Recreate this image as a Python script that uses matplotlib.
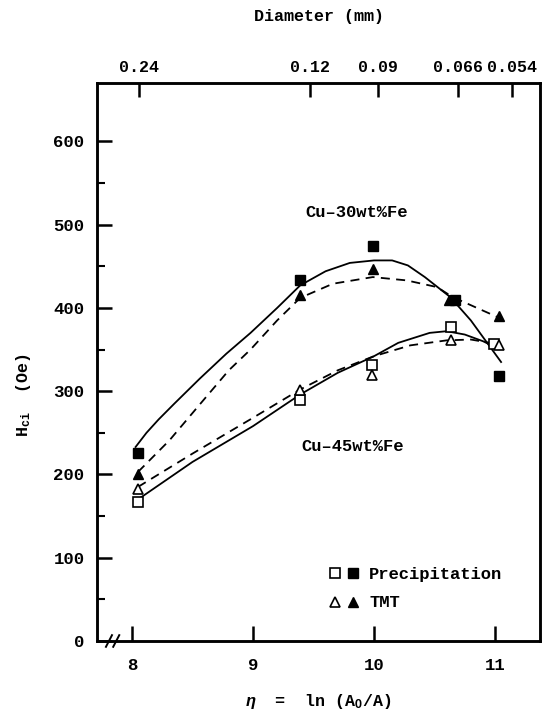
import matplotlib
matplotlib.use("Agg")
import matplotlib.pyplot as plt
from matplotlib.ticker import FixedLocator

plt.rcParams['font.family'] = ['Liberation Mono', 'DejaVu Sans']
plt.rcParams['font.weight'] = 'bold'
plt.rcParams['axes.labelweight'] = 'bold'
plt.rcParams['mathtext.fontset'] = 'custom'
plt.rcParams['mathtext.rm'] = 'Liberation Mono:bold'
plt.rcParams['mathtext.it'] = 'Liberation Mono:italic:bold'
plt.rcParams['mathtext.bf'] = 'Liberation Mono:bold'

# measured points: eta, Hci (Oe)
eta30_prec = [8.05, 9.39, 9.99, 10.67, 11.03]
hc30_prec = [226, 434, 474, 410, 318]
eta30_tmt = [8.05, 9.39, 9.99, 10.62, 11.03]
hc30_tmt = [200, 415, 447, 410, 390]
eta45_prec = [8.05, 9.39, 9.98, 10.64, 10.99]
hc45_prec = [167, 289, 331, 377, 357]
eta45_tmt = [8.05, 9.39, 9.98, 10.64, 11.03]
hc45_tmt = [182, 301, 320, 361, 356]

# hand-drawn fit curves
fit30_prec_x = [8.03, 8.12, 8.22, 8.35, 8.56, 8.78, 8.98, 9.2, 9.39, 9.6, 9.8, 10.0, 10.15, 10.28, 10.42, 10.63, 10.8, 10.95, 11.05]
fit30_prec_y = [233, 250, 266, 285, 315, 345, 370, 400, 427, 444, 454, 457, 457, 451, 437, 413, 385, 355, 335]
fit30_tmt_x = [8.05, 8.31, 8.56, 8.8, 8.98, 9.2, 9.39, 9.66, 9.99, 10.27, 10.52, 10.65, 10.85, 11.02]
fit30_tmt_y = [203, 241, 284, 325, 350, 385, 412, 429, 437, 433, 425, 413, 400, 389]
fit45_prec_x = [8.05, 8.5, 9.0, 9.39, 9.7, 10.0, 10.2, 10.46, 10.6, 10.75, 10.9, 11.0]
fit45_prec_y = [170, 215, 258, 296, 322, 342, 358, 370, 372, 368, 360, 353]
fit45_tmt_x = [8.05, 8.5, 9.0, 9.39, 9.7, 10.0, 10.3, 10.6, 10.8, 11.0, 11.05]
fit45_tmt_y = [185, 225, 268, 302, 325, 342, 355, 361, 362, 357, 355]

# top axis: wire diameter
diam_labels = ['0.24', '0.12', '0.09', '0.066', '0.054']
diam_eta = [8.06, 9.47, 10.03, 10.69, 11.14]

fig = plt.figure(figsize=(5.47, 7.19), dpi=100)
ax = fig.add_axes([0.1773, 0.1085, 0.81, 0.776])

lw = 1.3
dash = (0, (5, 3.5))
ax.plot(fit30_prec_x, fit30_prec_y, color='black', lw=lw)
ax.plot(fit30_tmt_x, fit30_tmt_y, color='black', lw=lw, linestyle=dash)
ax.plot(fit45_prec_x, fit45_prec_y, color='black', lw=lw)
ax.plot(fit45_tmt_x, fit45_tmt_y, color='black', lw=lw, linestyle=dash)

ms = 6.5
ax.plot(eta30_prec, hc30_prec, 's', color='black', ms=ms, ls='none')
ax.plot(eta30_tmt, hc30_tmt, '^', color='black', ms=ms, ls='none')
ax.plot(eta45_prec, hc45_prec, 's', mfc='white', mec='black', mew=1.2, ms=ms, ls='none')
ax.plot(eta45_tmt, hc45_tmt, '^', mfc='white', mec='black', mew=1.2, ms=ms, ls='none')

ax.set_xlim(7.711, 11.372)
ax.set_ylim(0, 670)

for s in ax.spines.values():
    s.set_linewidth(1.8)

ax.set_xticks([8, 9, 10, 11])
ax.set_yticks([0, 100, 200, 300, 400, 500, 600])
ax.yaxis.set_minor_locator(FixedLocator([50, 150, 250, 350, 450, 550]))
ax.tick_params(axis='both', which='major', direction='in', length=11, width=1.8,
               labelsize=12.5, pad=9)
ax.tick_params(axis='y', which='minor', direction='in', length=6, width=1.5)
ax.tick_params(axis='x', pad=12)
for lab in ax.get_xticklabels() + ax.get_yticklabels():
    lab.set_fontweight('bold')

ax.set_xlabel(r'$\eta$  =  ln (A$_\mathrm{O}$/A)', fontsize=12, labelpad=14)
ax.set_ylabel(r'H$_\mathrm{ci}$  (Oe)', fontsize=12, labelpad=10)
ax.yaxis.set_label_coords(-0.145, 0.44)

top = ax.twiny()
top.set_xlim(ax.get_xlim())
top.set_xticks(diam_eta)
top.set_xticklabels(diam_labels, fontweight='bold')
top.tick_params(axis='x', direction='in', length=10, width=1.8, labelsize=12, pad=6)
top.set_xlabel('Diameter (mm)', fontsize=12, labelpad=28)
for s in top.spines.values():
    s.set_linewidth(1.8)

# axis break on the bottom spine
for dx in (-0.03, 0.03):
    ax.plot([7.84 + dx - 0.025, 7.84 + dx + 0.025], [-7, 7], color='black', lw=1.4,
            clip_on=False)

ax.text(9.86, 515, 'Cu\u201330wt%Fe', ha='center', va='center', fontsize=12.3)
ax.text(9.82, 233, 'Cu\u201345wt%Fe', ha='center', va='center', fontsize=12.3)

# legend drawn by hand
ax.plot([9.68], [82], 's', mfc='white', mec='black', mew=1.2, ms=ms)
ax.plot([9.83], [82], 's', color='black', ms=ms)
ax.plot([9.68], [47], '^', mfc='white', mec='black', mew=1.2, ms=ms)
ax.plot([9.83], [47], '^', color='black', ms=ms)
ax.text(9.96, 80, 'Precipitation', ha='left', va='center', fontsize=12.3)
ax.text(9.96, 46, 'TMT', ha='left', va='center', fontsize=12.3)

fig.savefig('out.png', dpi=100)
